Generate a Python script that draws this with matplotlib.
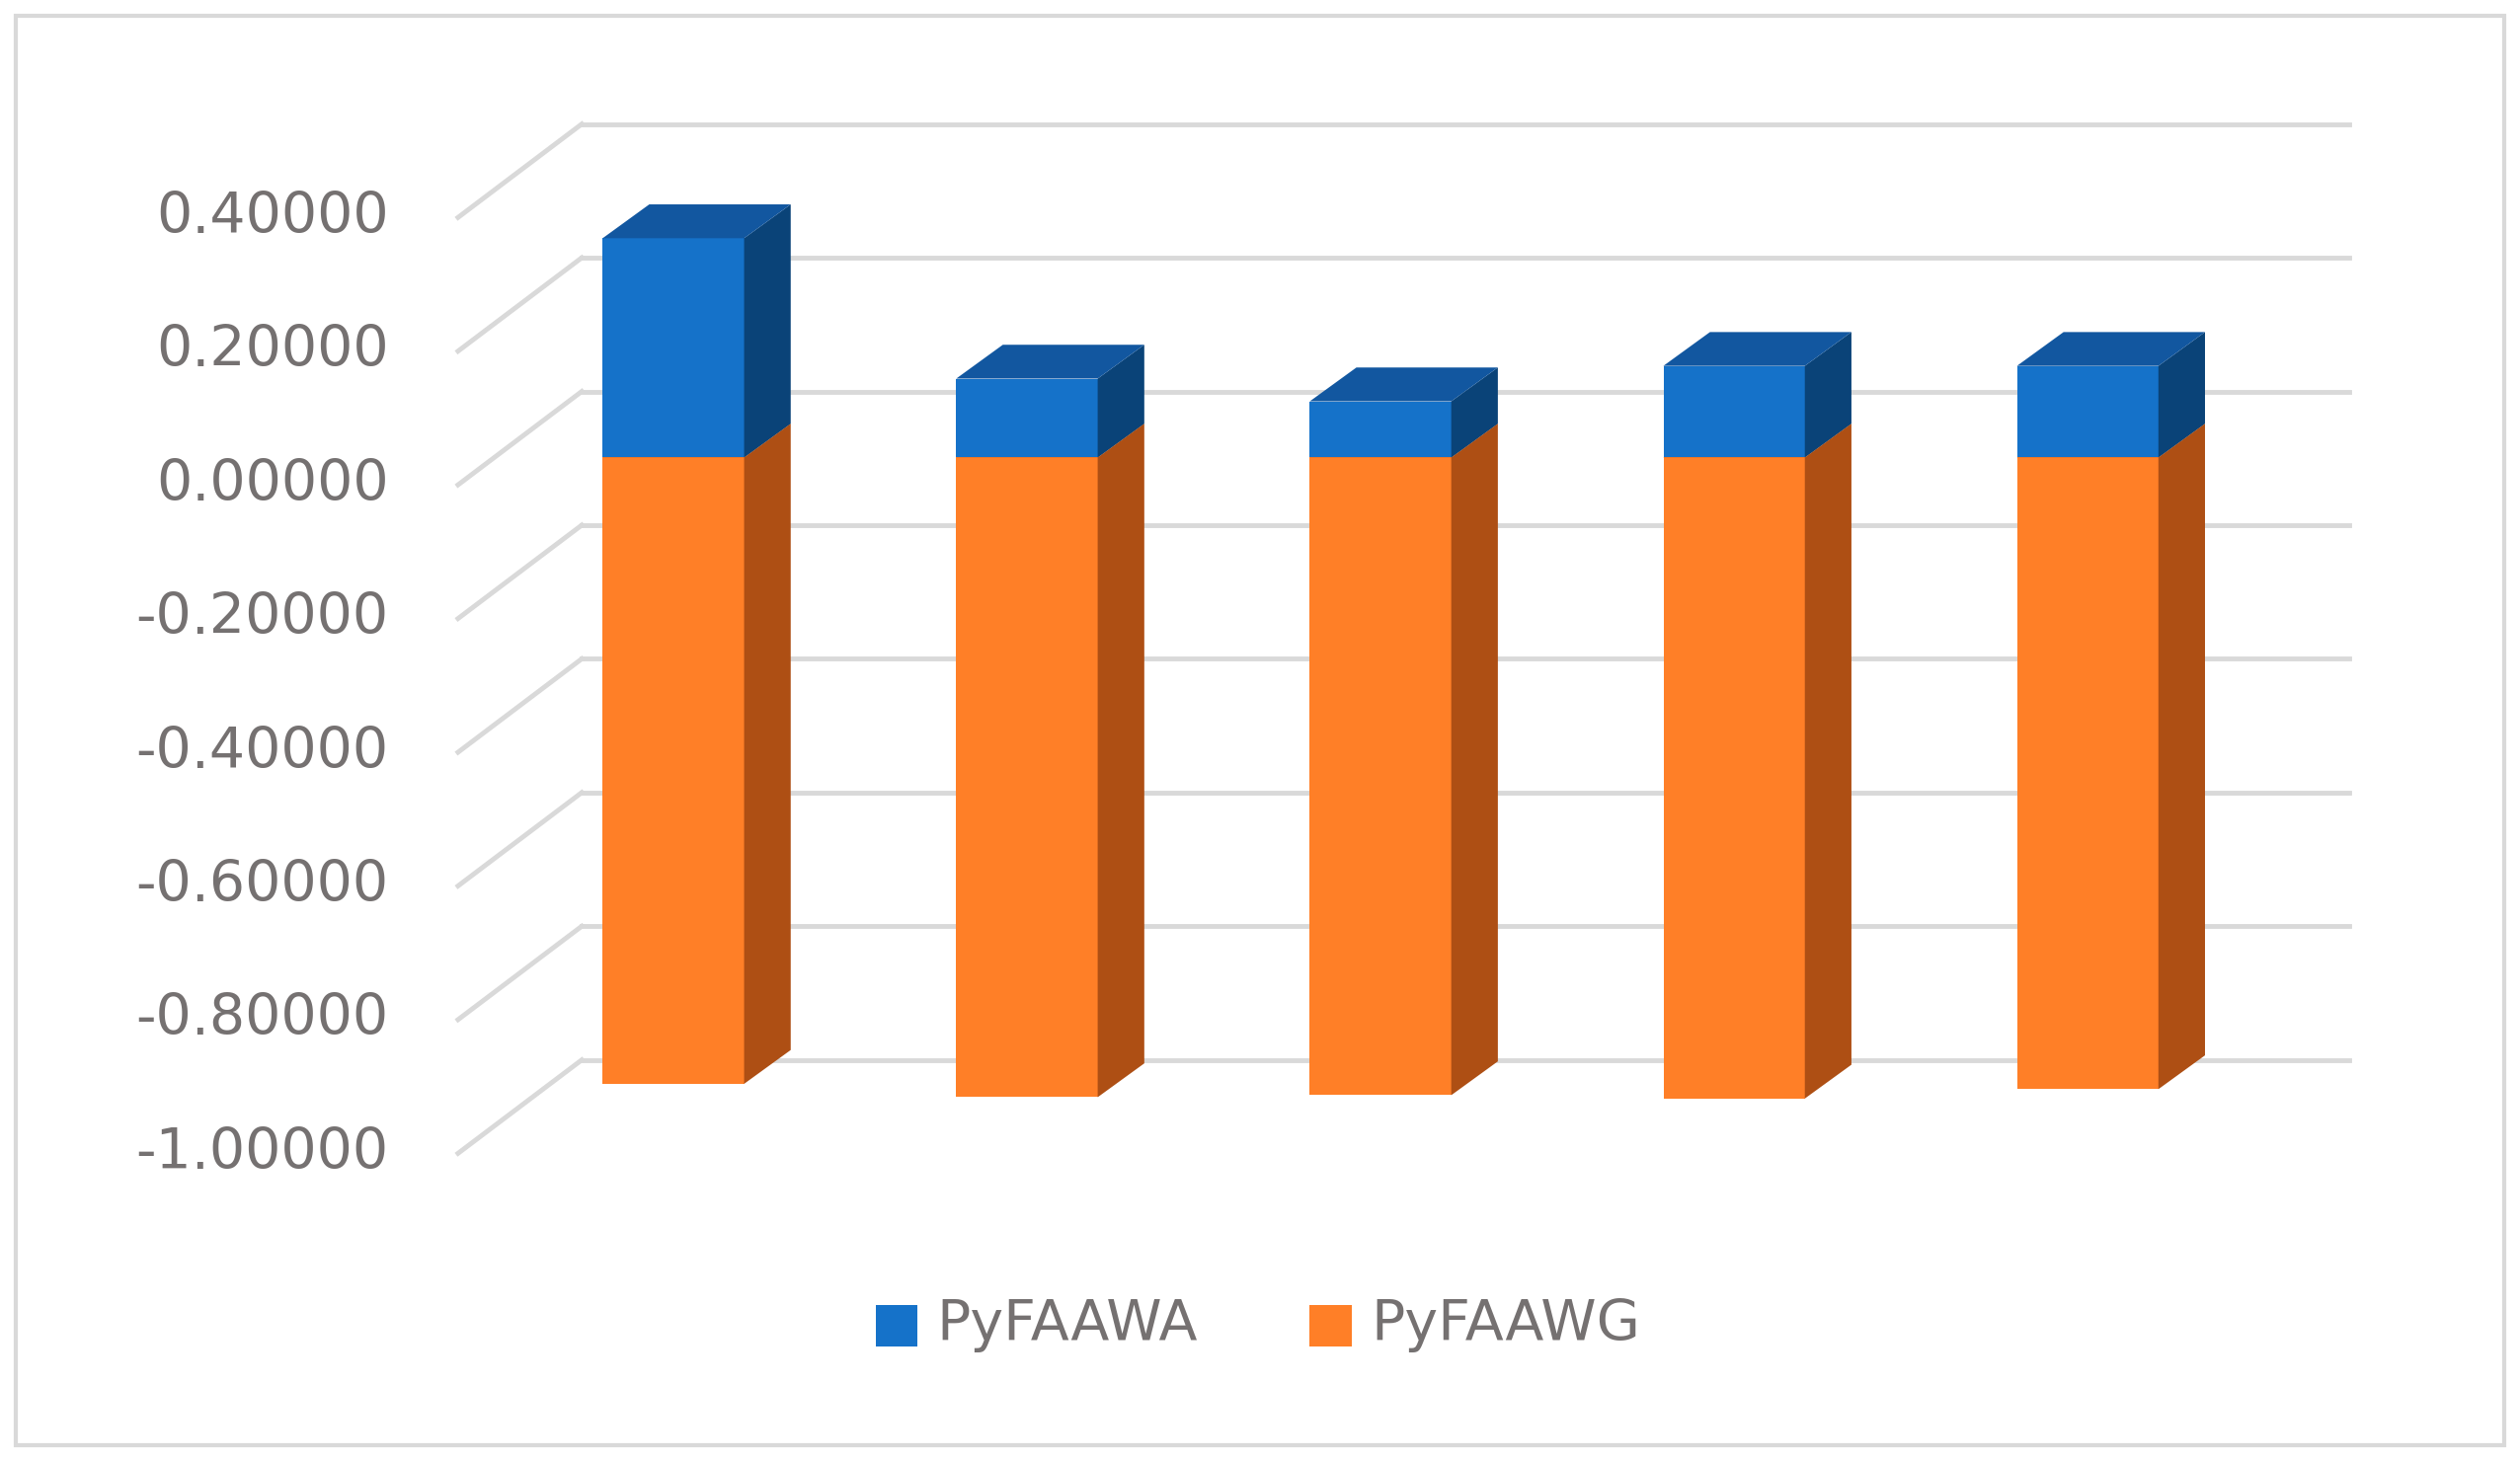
import matplotlib
matplotlib.use("Agg")
import matplotlib.pyplot as plt
from matplotlib.patches import Polygon, Rectangle

categories = ["1", "2", "3", "4", "5"]
pyfaawa = [0.328, 0.118, 0.084, 0.137, 0.137]
pyfaawg = [-0.937, -0.957, -0.954, -0.959, -0.945]
tick_values = [0.4, 0.2, 0.0, -0.2, -0.4, -0.6, -0.8, -1.0]
tick_labels = ["0.40000", "0.20000", "0.00000", "-0.20000", "-0.40000", "-0.60000", "-0.80000", "-1.00000"]

W, H = 1568, 907
PX = 415.0  # pixels per unit value (reference scale)
fig = plt.figure(figsize=(25.52, 14.8), dpi=100)
ax = fig.add_axes([0, 0, 1, 1])
ax.set_xlim(0, W)
ax.set_ylim(-(H - 284) / PX, 284 / PX)
ax.axis("off")

grid_c = "#D9D9D9"
back_off = (284 - 243) / PX
front_off = (284 - 301) / PX
for v in tick_values:
    ax.plot([362, 1462], [v + back_off, v + back_off], color=grid_c, lw=3.5, zorder=1)
    ax.plot([285, 362], [v + front_off, v + back_off], color=grid_c, lw=3.5, zorder=1)
for v, lab in zip(tick_values, tick_labels):
    ax.text(242, v + front_off, lab, ha="right", va="center", fontsize=41,
            color="#757171", family="DejaVu Sans")

dx, dv = 29, 21 / PX
bw = 88

def box(x0, v0, v1, front, side, top, z):
    x1 = x0 + bw
    ax.add_patch(Rectangle((x0, v0), bw, v1 - v0, facecolor=front, edgecolor="none", zorder=z))
    ax.add_patch(Polygon([(x1, v0), (x1 + dx, v0 + dv), (x1 + dx, v1 + dv), (x1, v1)],
                         facecolor=side, edgecolor="none", zorder=z))
    ax.add_patch(Polygon([(x0, v1), (x0 + dx, v1 + dv), (x1 + dx, v1 + dv), (x1, v1)],
                         facecolor=top, edgecolor="none", zorder=z))

for i, (a, g) in enumerate(zip(pyfaawa, pyfaawg)):
    x0 = 375 + 220 * i
    box(x0, g, 0, "#FF7F27", "#AE4F14", "#D96A1E", 3)
    box(x0, 0, a, "#1572C9", "#0A4378", "#1257A0", 4)

# legend
lv = (284 - 823) / PX
ax.add_patch(Rectangle((545, lv - 13 / PX), 26, 26 / PX, facecolor="#1572C9", zorder=5))
ax.text(583, lv, "PyFAAWA", va="center", ha="left", fontsize=41, color="#757171")
ax.add_patch(Rectangle((815, lv - 13 / PX), 26, 26 / PX, facecolor="#FF7F27", zorder=5))
ax.text(853, lv, "PyFAAWG", va="center", ha="left", fontsize=41, color="#757171")

# border
ax.add_patch(Rectangle((10, (284 - 897) / PX), 1548, 887 / PX, facecolor="none",
                       edgecolor="#D9D9D9", lw=3, zorder=0))

fig.savefig("out.png", dpi=100)
